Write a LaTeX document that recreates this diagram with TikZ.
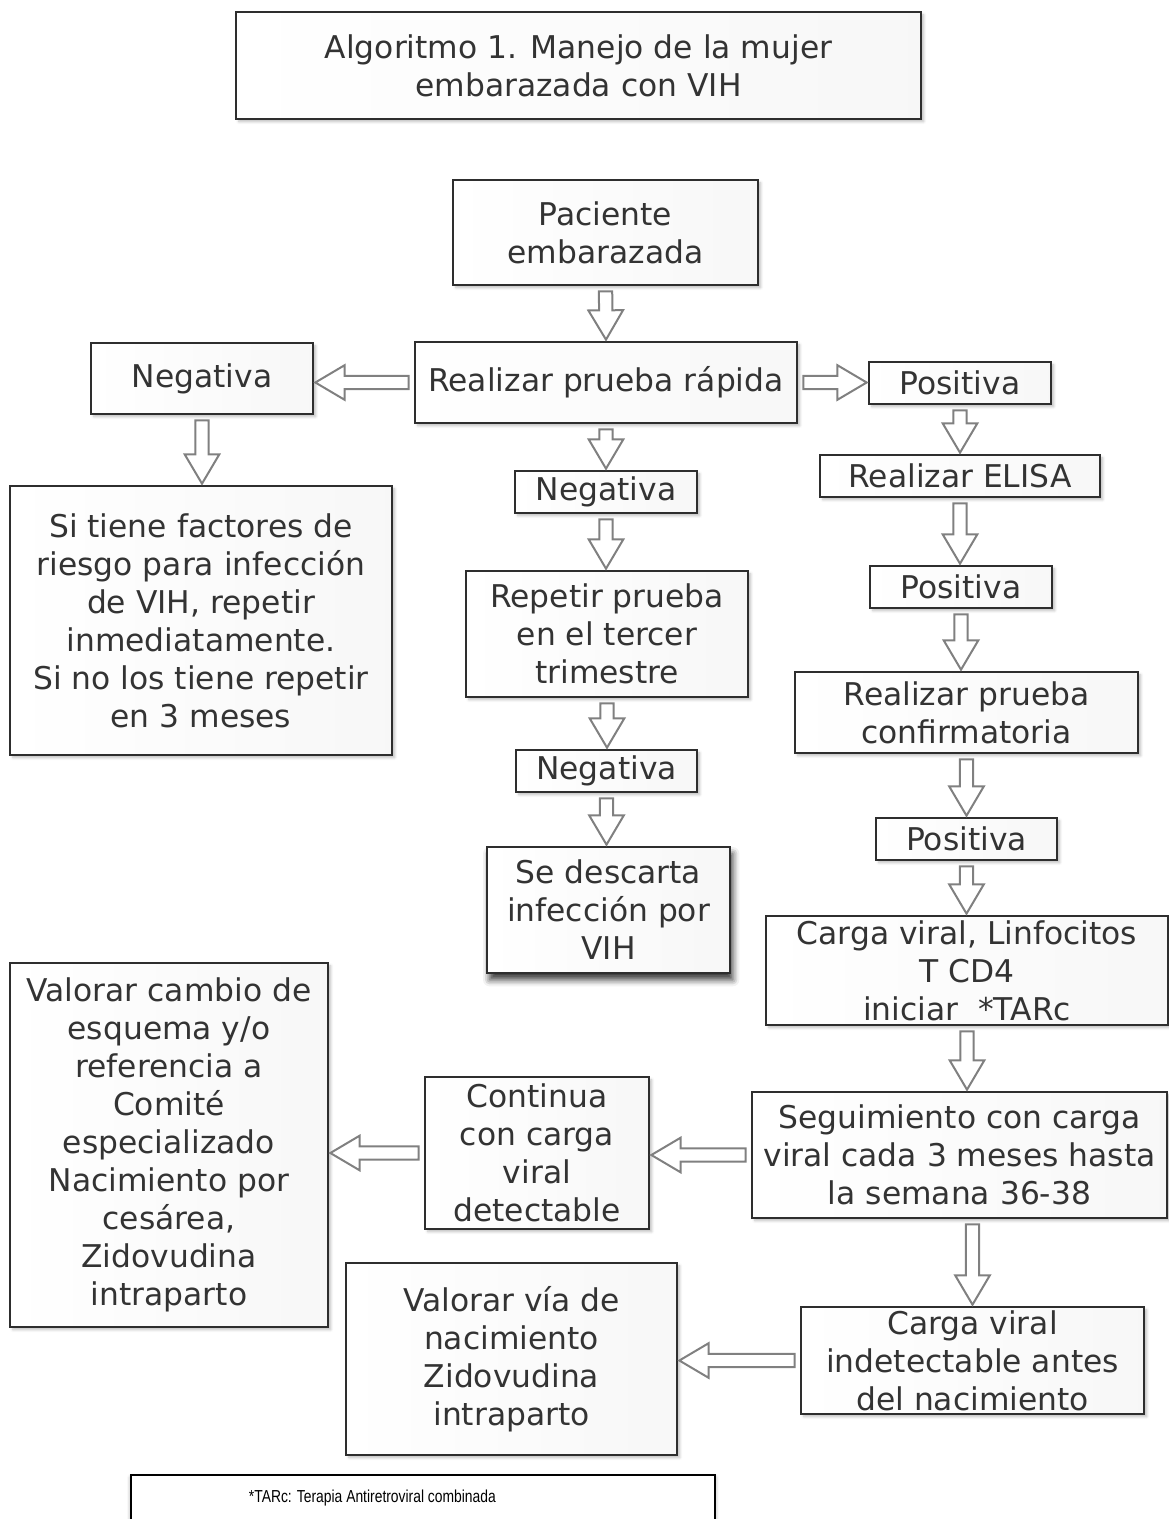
\documentclass[tikz,border=0pt]{standalone}
\usepackage{fontspec}
\setmainfont{DejaVu Sans}
\newfontfamily\notefont[FakeStretch=0.8]{Liberation Sans}
\usepackage{tikz}
\usetikzlibrary{positioning, calc, shadows.blur}
\usepackage{xcolor}

\definecolor{ink}{HTML}{333333}
\definecolor{boxline}{HTML}{2E2E2E}
\definecolor{arrowgray}{HTML}{808080}
\newcommand\boxfont{\fontsize{23.5}{28.5}\selectfont}

\tikzset{
  boxbase/.style={draw=boxline, line width=1.5pt, left color=white, right color=black!3,
                  text=ink, align=center, inner sep=0pt, font=\boxfont},
  box/.style={boxbase, blur shadow={shadow xshift=2pt, shadow yshift=-2pt, shadow opacity=25, shadow blur radius=2pt}},
  darkbox/.style={boxbase, blur shadow={shadow xshift=2pt, shadow yshift=-5pt, shadow opacity=80, shadow blur radius=5pt}},
  notebox/.style={draw=black, line width=1.5pt, fill=white, inner sep=0pt,
                  blur shadow={shadow xshift=0pt, shadow yshift=-2pt, shadow opacity=40, shadow blur radius=3pt}},
  notetext/.style={font=\notefont\fontsize{13}{15}\selectfont, anchor=base west, inner sep=0pt},
  flow/.style={draw=arrowgray, line width=1.5pt, fill=white, line join=miter,
    to path={
      ($(\tikztostart)!4pt!(\tikztotarget)$) coordinate (fl-s)
      ($(\tikztotarget)!1pt!(\tikztostart)$) coordinate (fl-t)
      ($(fl-t)!22pt!(fl-s)$) coordinate (fl-b)
      ($(fl-s)!5pt!90:(fl-t)$) -- ($(fl-b)!5pt!90:(fl-t)$) -- ($(fl-b)!13pt!90:(fl-t)$)
      -- (fl-t) -- ($(fl-b)!13pt!-90:(fl-t)$) -- ($(fl-b)!5pt!-90:(fl-t)$)
      -- ($(fl-s)!5pt!-90:(fl-t)$) -- cycle (\tikztotarget)}}
}

\begin{document}
\begin{tikzpicture}[x=0.75pt, y=-0.75pt]
  \useasboundingbox (0,0) rectangle (1169,1519);

  % title
  \node[box, minimum width=513.75pt, minimum height=80.25pt] (tit) at (578.5,65.5)
    {Algoritmo 1. Manejo de la mujer\\embarazada con VIH};

  % first test
  \node[box, minimum width=228.75pt, minimum height=78.75pt] (pac) at (605.5,232.5) {Paciente\\embarazada};
  \node[box, minimum width=286.5pt, minimum height=60.75pt] (rap) at (606,382.5) {Realizar prueba rápida};
  \node[box, minimum width=166.5pt, minimum height=53.25pt] (negl) at (202,378.5) {Negativa};
  \node[box, minimum width=136.5pt, minimum height=31.5pt] (pos1) at (960,383) {Positiva};

  % negative branches
  \node[box, minimum width=286.5pt, minimum height=201.75pt] (risk) at (201,620.5)
    {Si tiene factores de\\riesgo para infección\\de VIH, repetir\\inmediatamente.\\Si no los tiene repetir\\en 3 meses};
  \node[box, minimum width=136.5pt, minimum height=31.5pt] (negc) at (606,492) {Negativa};
  \node[box, minimum width=211.5pt, minimum height=94.5pt] (rep) at (607,634) {Repetir prueba\\en el tercer\\trimestre};
  \node[box, minimum width=135.75pt, minimum height=31.5pt] (neg3) at (606.5,771) {Negativa};
  \node[darkbox, minimum width=182.25pt, minimum height=94.5pt] (desc) at (608.5,910) {Se descarta\\infección por\\VIH};

  % positive branch
  \node[box, minimum width=210pt, minimum height=31.5pt] (eli) at (960,476) {Realizar ELISA};
  \node[box, minimum width=136.5pt, minimum height=31.5pt] (pos2) at (961,587) {Positiva};
  \node[box, minimum width=257.25pt, minimum height=60.75pt] (conf) at (966.5,712.5) {Realizar prueba\\confirmatoria};
  \node[box, minimum width=135.75pt, minimum height=31.5pt] (pos3) at (966.5,839) {Positiva};
  \node[box, minimum width=301.5pt, minimum height=81.75pt] (cv) at (967,970.5)
    {Carga viral, Linfocitos\\T CD4\\iniciar\ \ *TARc};
  \node[box, minimum width=311.25pt, minimum height=94.5pt] (seg) at (959.5,1155)
    {Seguimiento con carga\\viral cada 3 meses hasta\\la semana 36-38};
  \node[box, minimum width=168pt, minimum height=114pt] (cont) at (537,1153)
    {Continua\\con carga\\viral\\detectable};
  \node[box, minimum width=238.5pt, minimum height=273pt] (valc) at (169,1145)
    {Valorar cambio de\\esquema y/o\\referencia a\\Comité\\especializado\\Nacimiento por\\cesárea,\\Zidovudina\\intraparto};
  \node[box, minimum width=257.25pt, minimum height=80.25pt] (ind) at (972.5,1360.5)
    {Carga viral\\indetectable antes\\del nacimiento};
  \node[box, minimum width=248.25pt, minimum height=144pt] (valv) at (511.5,1359)
    {Valorar vía de\\nacimiento\\Zidovudina\\intraparto};

  % footnote (box runs past the bottom edge)
  \node[notebox, anchor=north west, minimum width=438pt, minimum height=60pt,
        label={[notetext, xshift=89pt, yshift=-21pt]north west:*TARc: Terapia Antiretroviral combinada}]
    (note) at (130,1474) {};

  % arrows
  \draw[flow] (pac.south) to (rap.north);
  \draw[flow] (rap.west) to (rap.west -| negl.east);
  \draw[flow] (rap.east) to (rap.east -| pos1.west);
  \draw[flow] (negl.south) to (negl.south |- risk.north);
  \draw[flow] (rap.south) to (rap.south |- negc.north);
  \draw[flow] (negc.south) to (negc.south |- rep.north);
  \draw[flow] (rep.south) to (rep.south |- neg3.north);
  \draw[flow] (neg3.south) to (neg3.south |- desc.north);
  \draw[flow] (pos1.south) to (pos1.south |- eli.north);
  \draw[flow] (eli.south) to (eli.south |- pos2.north);
  \draw[flow] (pos2.south) to (pos2.south |- conf.north);
  \draw[flow] (conf.south) to (conf.south |- pos3.north);
  \draw[flow] (pos3.south) to (pos3.south |- cv.north);
  \draw[flow] (cv.south) to (cv.south |- seg.north);
  \draw[flow] (seg.west) to (seg.west -| cont.east);
  \draw[flow] (cont.west) to (cont.west -| valc.east);
  \draw[flow] (ind.north |- seg.south) to (ind.north);
  \draw[flow] (ind.west) to (ind.west -| valv.east);
\end{tikzpicture}
\end{document}
